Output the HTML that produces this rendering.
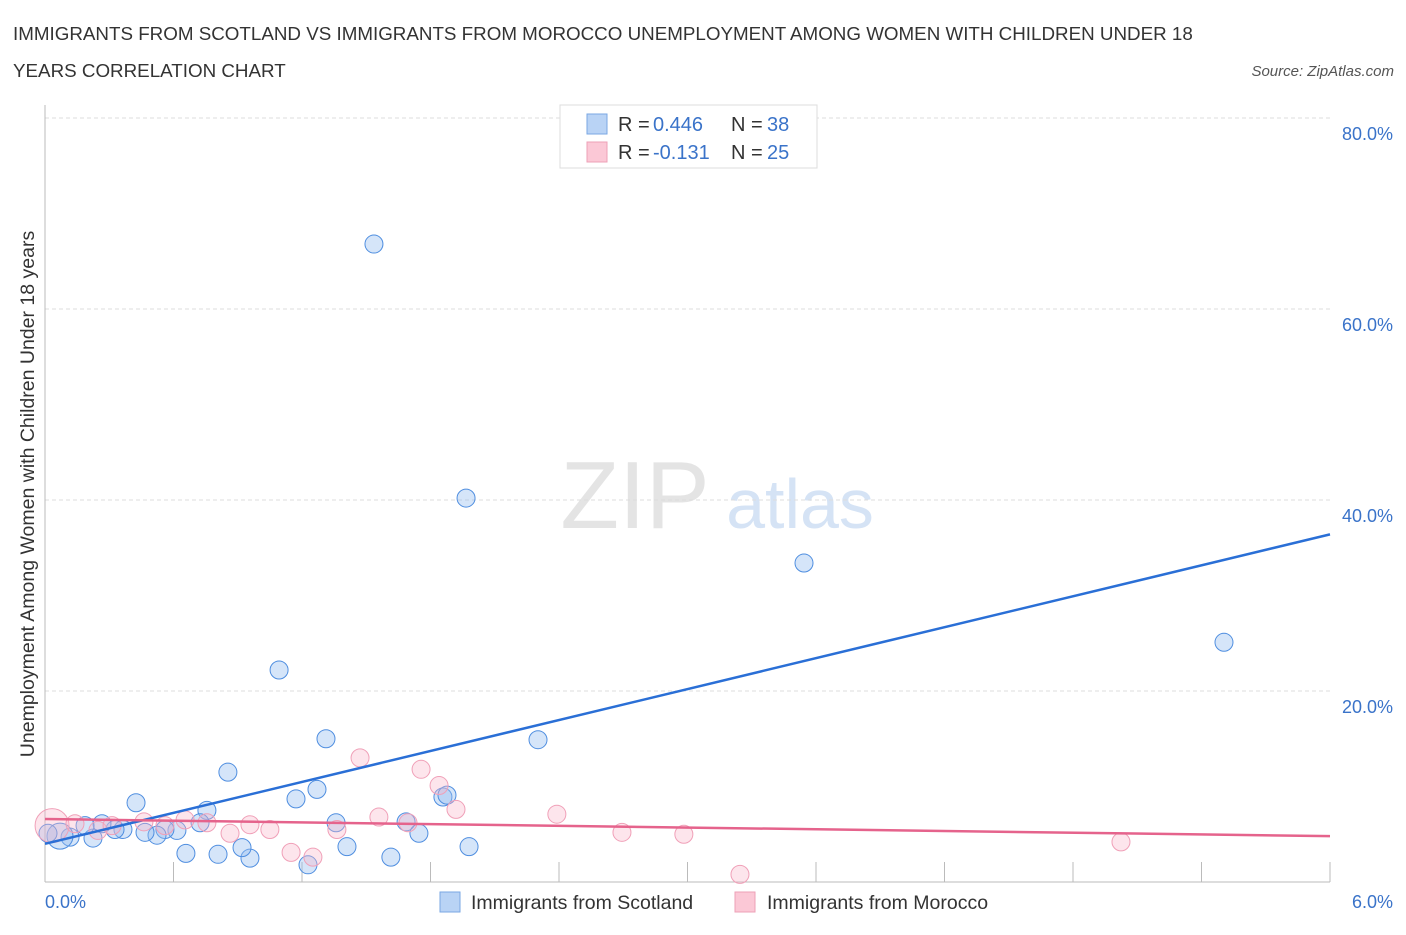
<!DOCTYPE html>
<html><head><meta charset="utf-8"><style>
body{margin:0;background:#fff;font-family:"Liberation Sans",sans-serif;}
svg text{font-family:"Liberation Sans",sans-serif;}
</style></head><body>
<svg id="chart" width="1406" height="930">
<text x="13" y="40" font-size="18.8" fill="#333">IMMIGRANTS FROM SCOTLAND VS IMMIGRANTS FROM MOROCCO UNEMPLOYMENT AMONG WOMEN WITH CHILDREN UNDER 18</text>
<text x="13" y="77" font-size="18.8" fill="#333">YEARS CORRELATION CHART</text>
<text x="1394" y="76" font-size="15" fill="#555" font-style="italic" text-anchor="end">Source: ZipAtlas.com</text>
<text x="635" y="528" font-size="96" fill="#e4e4e4" font-family="Liberation Serif" text-anchor="middle">ZIP</text>
<text x="800" y="528" font-size="70" fill="#d5e3f5" text-anchor="middle">atlas</text>
<g id="grid"></g><g id="axes"></g><g id="pts"></g><g id="lines"></g>
<text transform="translate(34,494) rotate(-90)" font-size="19.5" fill="#333" text-anchor="middle">Unemployment Among Women with Children Under 18 years</text>
<text x="45" y="908" font-size="18" fill="#3a73c9">0.0%</text>
<text x="1393" y="908" font-size="18" fill="#3a73c9" text-anchor="end">6.0%</text>
<g>
<rect x="560" y="105" width="257" height="63" fill="#fff" stroke="#ddd"/>
<rect x="587" y="114" width="20" height="20" fill="#b9d3f5" stroke="#7aa7e3"/>
<rect x="587" y="142" width="20" height="20" fill="#fbc8d6" stroke="#eea0b7"/>
<text y="131" font-size="20" fill="#333"><tspan x="618">R =</tspan><tspan x="653" fill="#3a73c9">0.446</tspan><tspan x="731">N =</tspan><tspan x="767" fill="#3a73c9">38</tspan></text>
<text y="159" font-size="20" fill="#333"><tspan x="618">R =</tspan><tspan x="653" fill="#3a73c9">-0.131</tspan><tspan x="731">N =</tspan><tspan x="767" fill="#3a73c9">25</tspan></text>
</g>
<g>
<rect x="440" y="892" width="20" height="20" fill="#b9d3f5" stroke="#7aa7e3"/>
<text x="471" y="909" font-size="19.5" fill="#333">Immigrants from Scotland</text>
<rect x="735" y="892" width="20" height="20" fill="#fbc8d6" stroke="#eea0b7"/>
<text x="767" y="909" font-size="19.5" fill="#333">Immigrants from Morocco</text>
</g>
</svg>
<script>
const yTicks=[20,40,60,80];
const yTickLabels=["20.0%","40.0%","60.0%","80.0%"];
const scotX=[1.536,1.966,3.544,5.505,1.093,2.302,1.312,0.854,1.270,1.172,0.425,0.756,1.858,1.877,1.359,1.686,1.746,1.410,1.980,1.615,1.228,0.957,0.920,0.808,0.658,0.724,0.616,0.560,0.523,0.467,0.364,0.327,0.266,0.224,0.117,0.070,0.014,0.187];
const scotY=[66.8,40.2,33.4,25.1,22.2,14.9,15.0,11.5,9.7,8.7,8.3,7.5,8.9,9.1,6.2,6.3,5.1,3.7,3.7,2.6,1.8,2.5,3.6,2.9,3.0,6.2,5.4,5.5,4.9,5.2,5.5,5.5,6.1,4.6,4.7,4.8,5.1,5.9];
const morX=[0.033,0.140,0.462,0.654,0.756,0.864,0.957,1.050,1.149,1.251,1.363,1.471,1.559,1.695,1.756,1.840,1.919,2.390,2.694,2.983,3.245,5.024,0.247,0.560,0.313];
const morY=[5.9,6.1,6.3,6.5,6.2,5.1,6.0,5.5,3.1,2.6,5.5,13.0,6.8,6.2,11.8,10.1,7.6,7.1,5.2,5.0,0.8,4.2,5.4,5.9,5.9];
const scotLine=[4.0,36.4];
const morLine=[6.6,4.8];
const NS="http://www.w3.org/2000/svg";
const X=v=>45+v/6*1285, Y=v=>882-v/20*191;
function mk(t,a,p){const e=document.createElementNS(NS,t);for(const k in a)e.setAttribute(k,a[k]);document.getElementById(p).appendChild(e);return e;}
yTicks.forEach((t,i)=>{
 const l=mk('line',{x1:45,x2:1330,y1:Y(t),y2:Y(t),stroke:'#ddd','stroke-dasharray':'4,3'},'grid');
 
 
 const tx=mk('text',{x:1393,y:Y(t)+22,'font-size':18,fill:'#3a73c9','text-anchor':'end'},'grid');
 tx.textContent=yTickLabels[i];
 
 
});
const ax=mk('line',{x1:45,x2:45,y1:105,y2:882,stroke:'#bbb'},'axes');


const bx=mk('line',{x1:45,x2:1330,y1:882,y2:882,stroke:'#bbb'},'axes');


for(let i=1;i<=10;i++){const t=mk('line',{x1:X(i*0.6),x2:X(i*0.6),y1:862,y2:882,stroke:'#bbb'},'axes');
 
 }
scotX.forEach((v,i)=>{const c=mk('circle',{cx:X(v),cy:Y(scotY[i]),r:i==35?13:9,fill:'rgba(150,190,240,0.4)',stroke:'#4f8ee0','stroke-width':1},'pts');
 
 });
morX.forEach((v,i)=>{const c=mk('circle',{cx:X(v),cy:Y(morY[i]),r:i==0?17:9,fill:'rgba(248,180,200,0.35)',stroke:'#f0a0b8','stroke-width':1},'pts');
 
 });
const l1=mk('line',{x1:X(0),y1:Y(scotLine[0]),x2:X(6),y2:Y(scotLine[1]),stroke:'#2a6fd6','stroke-width':2.5},'lines');


const l2=mk('line',{x1:X(0),y1:Y(morLine[0]),x2:X(6),y2:Y(morLine[1]),stroke:'#e5638c','stroke-width':2.5},'lines');


</script>
</body></html>
